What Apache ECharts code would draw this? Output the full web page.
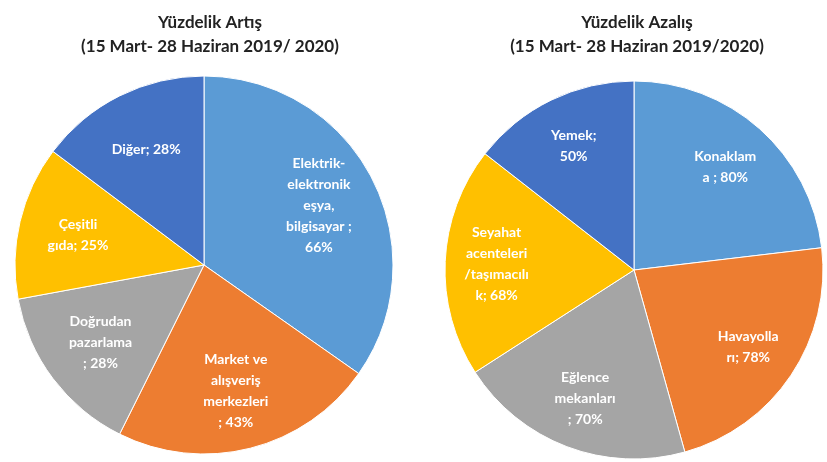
<!DOCTYPE html>
<html><head><meta charset="utf-8">
<script src="https://cdn.jsdelivr.net/npm/echarts@6/dist/echarts.min.js"></script>
<style>html,body{margin:0;padding:0;background:#fff}#c{width:827px;height:462px}</style>
</head><body><div id="c"></div>
<script>
const leftTitle = ['Yüzdelik Artış', '(15 Mart- 28 Haziran 2019/ 2020)'];
const rightTitle = ['Yüzdelik Azalış', '(15 Mart- 28 Haziran 2019/2020)'];
const leftNames = ['Elektrik-\nelektronik\neşya,\nbilgisayar ;\n', 'Market ve\nalışveriş\nmerkezleri\n; ', 'Doğrudan\npazarlama\n; ', 'Çeşitli\ngıda; ', 'Diğer; '];
const leftValues = [66, 43, 28, 25, 28];
const rightNames = ['Konaklam\na ; ', 'Havayolla\nrı; ', 'Eğlence\nmekanları\n; ', 'Seyahat\nacenteleri\n/taşımacılı\nk; ', 'Yemek;\n'];
const rightValues = [80, 78, 70, 68, 50];
const colors = ['#5B9BD5', '#ED7D31', '#A5A5A5', '#FFC000', '#4472C4'];

function mk(names, vals){ return names.map((n,i)=>({name:n, value:vals[i]})); }
const font = 'Lato, "Open Sans", sans-serif';
function pies(center, names, vals, r0){
  const data = mk(names, vals);
  return [
    {type:'pie', center:center, radius:[0,189], startAngle:90, silent:true,
     itemStyle:{borderColor:'#fff', borderWidth:1}, label:{show:false}, labelLine:{show:false}, data:data},
    {type:'pie', center:center, radius:[r0,189], startAngle:90, silent:true,
     itemStyle:{color:'transparent', borderWidth:0},
     label:{show:true, position:'inside', color:'#fff', fontWeight:'bold', fontSize:14, lineHeight:21, fontFamily:font,
       formatter:p=>p.name + p.value + '%'}, labelLine:{show:false}, data:data}
  ];
}
const tStyle = {fontSize:17, fontWeight:'bold', lineHeight:24, color:'#222', fontFamily:font};
const chart = echarts.init(document.getElementById('c'));
chart.setOption({
  animation:false,
  color:colors,
  title:[
    {text:leftTitle.join('\n'), left:205, top:6, textAlign:'center', textStyle:tStyle},
    {text:rightTitle.join('\n'), left:632, top:6, textAlign:'center', textStyle:tStyle}
  ],
  series:[...pies([204,265], leftNames, leftValues, 64), ...pies([634,270], rightNames, rightValues, 80)]
});
</script></body></html>
